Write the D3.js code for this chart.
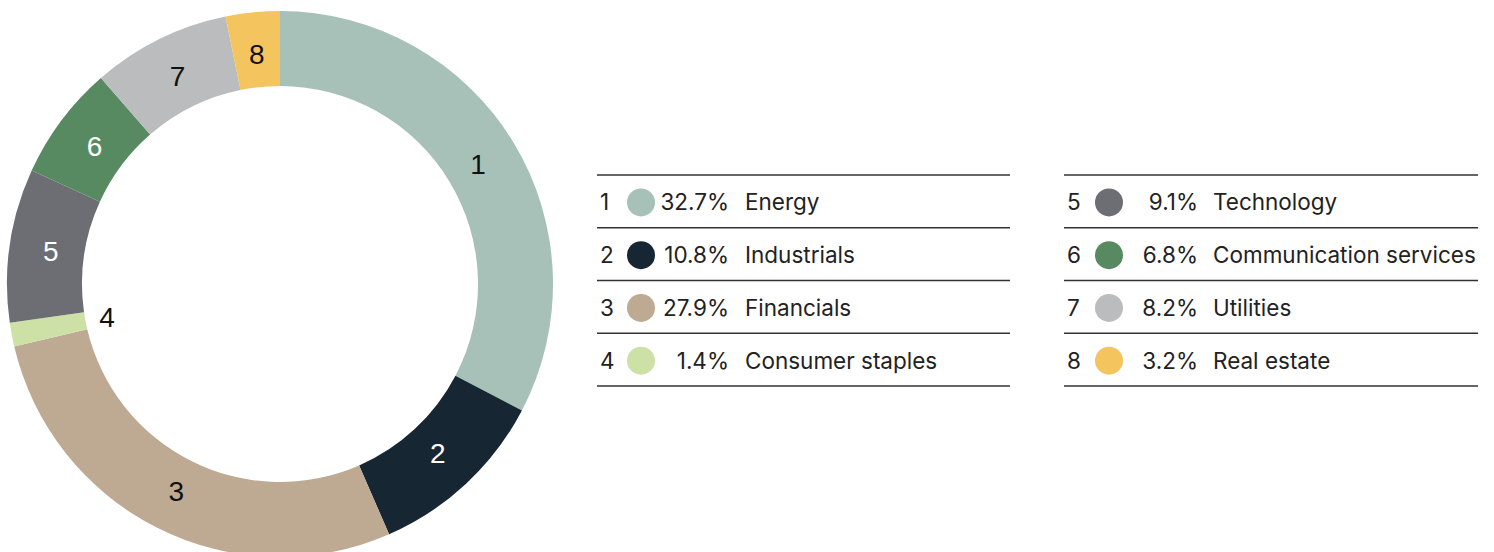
<!DOCTYPE html>
<html>
<head>
<meta charset="utf-8">
<script src="https://cdn.jsdelivr.net/npm/d3@7"></script>
<style>
  body { margin: 0; background: #fff; }
  svg text { font-family: Inter, "Noto Sans", sans-serif; }
</style>
</head>
<body>
<div id="chart"></div>
<script>
// sector data, clockwise from 12 o'clock
var ids = [1, 2, 3, 4, 5, 6, 7, 8];
var sectors = ["Energy", "Industrials", "Financials", "Consumer staples",
               "Technology", "Communication services", "Utilities", "Real estate"];
var shares = [32.7, 10.8, 27.9, 1.4, 9.1, 6.8, 8.2, 3.2];
var colors = ["#a7c1b8", "#172633", "#bea992", "#cde0a5",
              "#6d6e73", "#588a62", "#bbbcbe", "#f4c45f"];
var labelColors = ["#111", "#fff", "#111", "#111", "#fff", "#fff", "#111", "#111"];

var width = 1494, height = 552;

var data = ids.map(function(id, i) {
  return {id: id, name: sectors[i], value: shares[i], color: colors[i], labelColor: labelColors[i]};
});

var svg = d3.select("#chart")
            .append("svg")
            .attr("width", width)
            .attr("height", height);

// donut
var cx = 280, cy = 284, outerR = 273, innerR = 198;

var pie = d3.pie()
            .sort(null)
            .value(function(d) { return d.value; });

var arc = d3.arc().innerRadius(innerR).outerRadius(outerR);
var labelArc = d3.arc().innerRadius(innerR - 4).outerRadius(outerR - 4);
// the thin slice gets its number inside the hole
var smallArc = d3.arc().innerRadius(176).outerRadius(176);

var donut = svg.append("g")
               .attr("transform", "translate(" + cx + "," + cy + ")");

var arcs = pie(data);

donut.selectAll("path")
     .data(arcs)
   .enter().append("path")
     .attr("d", arc)
     .style("fill", function(d) { return d.data.color; });

donut.selectAll("text")
     .data(arcs)
   .enter().append("text")
     .attr("transform", function(d) {
       var c = d.data.value < 2 ? smallArc.centroid(d) : labelArc.centroid(d);
       return "translate(" + c + ")";
     })
     .attr("text-anchor", "middle")
     .attr("dy", "0.36em")
     .style("font-family", "'Liberation Sans', Arial, sans-serif")
     .style("font-size", "28px")
     .style("fill", function(d) { return d.data.labelColor; })
     .text(function(d) { return d.data.id; });

// legend tables
var columns = [
  {rows: data.slice(0, 4), x0: 597, x1: 1010, num: 600, dot: 641, pct: 729, name: 745},
  {rows: data.slice(4, 8), x0: 1064, x1: 1478, num: 1067, dot: 1109, pct: 1198, name: 1213}
];
var y = d3.scaleLinear().domain([0, 4]).range([175, 386]);
var fmt = d3.format(".1f");

columns.forEach(function(col) {
  var g = svg.append("g").attr("class", "legend");

  g.selectAll("line")
   .data(d3.range(5))
 .enter().append("line")
   .attr("x1", col.x0).attr("x2", col.x1)
   .attr("y1", function(i) { return y(i); })
   .attr("y2", function(i) { return y(i); })
   .style("stroke", "#333")
   .style("stroke-width", 1.4);

  var row = g.selectAll("g.row")
   .data(col.rows)
 .enter().append("g")
   .attr("class", "row")
   .attr("transform", function(d, i) { return "translate(0," + ((y(i) + y(i + 1)) / 2 + 1) + ")"; });

  row.append("text")
     .attr("x", col.num)
     .attr("dy", "0.36em")
     .style("font-size", "22.5px")
     .style("fill", "#222")
     .text(function(d) { return d.id; });

  row.append("circle")
     .attr("cx", col.dot)
     .attr("r", 14)
     .style("fill", function(d) { return d.color; });

  row.append("text")
     .attr("x", col.pct)
     .attr("dy", "0.36em")
     .attr("text-anchor", "end")
     .style("font-size", "22.5px")
     .style("fill", "#222")
     .text(function(d) { return fmt(d.value) + "%"; });

  row.append("text")
     .attr("x", col.name)
     .attr("dy", "0.36em")
     .style("font-size", "22.5px")
     .style("fill", "#222")
     .text(function(d) { return d.name; });
});
</script>
</body>
</html>
